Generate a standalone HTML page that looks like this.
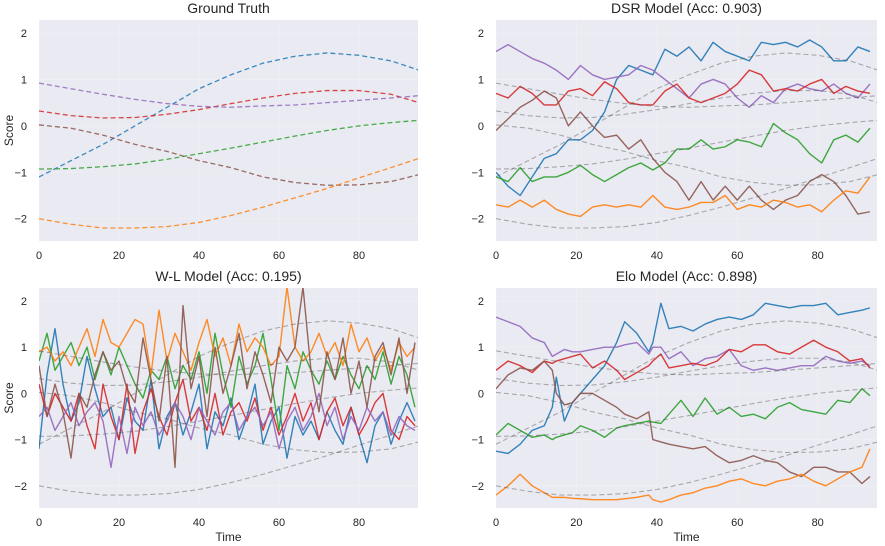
<!DOCTYPE html>
<html><head><meta charset="utf-8">
<style>
body{margin:0;background:#fff;}
svg{display:block;font-family:"Liberation Sans",sans-serif;}
</style></head>
<body>
<svg id="fig" width="885" height="546" viewBox="0 0 885 546"></svg>
<script>
// ---- data ----
const gtT = [0,8,16,24,32,40,48,56,64,72,80,88,95];
const gtBlue = [-1.1,-0.75,-0.4,0.0,0.4,0.8,1.1,1.35,1.5,1.57,1.52,1.4,1.2];
const gtRed = [0.32,0.22,0.17,0.18,0.25,0.35,0.48,0.6,0.7,0.76,0.76,0.68,0.5];
const gtPurple = [0.92,0.8,0.68,0.57,0.48,0.42,0.4,0.43,0.45,0.5,0.55,0.6,0.65];
const gtBrown = [0.02,-0.05,-0.2,-0.4,-0.55,-0.75,-0.9,-1.1,-1.22,-1.28,-1.27,-1.2,-1.05];
const gtGreen = [-0.93,-0.92,-0.88,-0.82,-0.72,-0.6,-0.48,-0.35,-0.22,-0.1,0.0,0.07,0.12];
const gtOrange = [-2.0,-2.12,-2.2,-2.2,-2.17,-2.08,-1.93,-1.75,-1.55,-1.35,-1.12,-0.9,-0.7];

const dsrT = [0,3,6,9,12,15,18,21,24,27,30,33,36,39,42,45,48,51,54,57,60,63,66,69,72,75,78,81,84,87,90,93];
const dsrBlue = [-1.0,-1.3,-1.5,-1.1,-0.7,-0.6,-0.3,-0.3,-0.1,0.3,1.0,1.3,1.2,1.1,1.65,1.5,1.7,1.4,1.8,1.6,1.5,1.4,1.8,1.75,1.8,1.7,1.85,1.7,1.4,1.4,1.7,1.6];
const dsrPurple = [1.6,1.75,1.6,1.45,1.35,1.2,1.0,1.3,1.1,1.0,1.05,1.1,1.3,1.2,1.0,0.8,0.6,0.9,1.0,0.9,0.6,0.4,0.65,0.5,0.8,0.9,0.8,0.75,0.9,0.7,0.6,0.9];
const dsrRed = [0.7,0.6,0.85,0.7,0.45,0.45,0.75,0.8,0.65,0.95,0.8,0.5,0.45,0.45,0.75,0.9,0.6,0.5,0.6,0.7,0.9,1.2,1.1,0.75,0.8,0.75,0.9,1.0,0.7,0.85,0.75,0.7];
const dsrBrown = [-0.1,0.15,0.4,0.55,0.75,0.6,0.0,0.3,0.0,-0.25,-0.2,-0.5,-0.3,-0.7,-1.0,-1.2,-1.6,-1.2,-1.6,-1.3,-1.6,-1.3,-1.6,-1.8,-1.6,-1.5,-1.2,-1.05,-1.2,-1.5,-1.9,-1.85];
const dsrGreen = [-1.1,-1.2,-0.9,-1.2,-1.1,-1.1,-1.0,-0.85,-1.05,-1.2,-1.05,-0.9,-0.8,-0.95,-0.8,-0.5,-0.5,-0.3,-0.5,-0.45,-0.3,-0.35,-0.45,0.05,-0.15,-0.3,-0.6,-0.8,-0.3,-0.2,-0.35,-0.05];
const dsrOrange = [-1.7,-1.75,-1.6,-1.75,-1.6,-1.8,-1.9,-1.95,-1.75,-1.7,-1.75,-1.7,-1.75,-1.5,-1.75,-1.8,-1.75,-1.65,-1.65,-1.5,-1.8,-1.7,-1.75,-1.6,-1.65,-1.75,-1.7,-1.85,-1.6,-1.4,-1.45,-1.1];

const eloT = [0,3,6,9,12,14,15,17,19,21,24,27,30,32,35,38,39,41,43,46,49,52,55,58,61,64,67,70,73,76,79,82,85,88,91,93];
const eloBlue = [-1.25,-1.3,-1.1,-0.8,-0.7,-0.3,0.35,-0.6,-0.2,0.0,0.3,0.6,1.1,1.55,1.3,0.9,1.1,1.95,1.4,1.45,1.35,1.5,1.6,1.65,1.6,1.7,1.95,1.9,1.85,1.9,1.9,1.95,1.7,1.75,1.8,1.85];
const eloPurple = [1.65,1.55,1.45,1.2,1.1,0.8,0.85,0.95,0.9,0.9,0.95,1.0,1.0,1.05,1.1,0.85,1.0,1.0,0.75,0.9,0.6,0.75,0.8,0.95,0.6,0.5,0.55,0.5,0.55,0.6,0.6,0.8,0.7,0.65,0.7,0.6];
const eloRed = [0.5,0.7,0.6,0.45,0.7,0.65,0.7,0.75,0.8,0.85,0.55,0.7,0.5,0.3,0.45,0.6,0.7,0.85,0.55,0.6,0.65,0.6,0.7,0.95,0.9,1.05,1.05,0.9,0.85,1.0,1.15,1.0,0.9,0.7,0.75,0.55];
const eloBrown = [0.1,0.4,0.55,0.5,0.7,0.5,0.0,-0.25,-0.2,0.0,0.0,-0.15,-0.3,-0.45,-0.55,-0.4,-1.0,-1.05,-1.1,-1.15,-1.2,-1.15,-1.35,-1.5,-1.45,-1.35,-1.45,-1.5,-1.7,-1.8,-1.6,-1.6,-1.7,-1.7,-1.95,-1.8];
const eloGreen = [-0.9,-0.65,-0.8,-0.95,-0.9,-1.0,-0.95,-0.9,-0.85,-0.7,-0.8,-0.95,-0.75,-0.7,-0.65,-0.6,-0.62,-0.65,-0.45,-0.15,-0.5,-0.1,-0.45,-0.3,-0.5,-0.45,-0.55,-0.3,-0.2,-0.35,-0.4,-0.45,-0.15,-0.2,0.1,-0.05];
const eloOrange = [-2.2,-2.0,-1.75,-2.0,-2.15,-2.25,-2.25,-2.25,-2.27,-2.28,-2.3,-2.3,-2.3,-2.28,-2.25,-2.2,-2.3,-2.35,-2.3,-2.2,-2.15,-2.05,-2.0,-1.9,-1.85,-1.95,-2.0,-1.9,-1.85,-1.75,-1.9,-2.0,-1.85,-1.7,-1.6,-1.2];

const wlT = [0,2,4,6,8,10,12,14,16,18,20,22,24,26,28,30,32,34,36,38,40,42,44,46,48,50,52,54,56,58,60,62,64,66,68,70,72,74,76,78,80,82,84,86,88,90,92,94];
const wlOrange = [0.9,1.0,0.7,0.9,0.6,1.0,1.4,0.8,1.6,1.1,1.0,1.3,1.6,1.5,0.4,1.8,0.7,1.3,0.9,0.5,1.1,1.6,0.8,1.2,0.6,1.5,0.9,1.2,1.0,0.6,0.8,2.3,1.0,0.7,0.9,1.3,0.8,1.1,0.6,1.5,0.9,1.2,0.7,1.0,0.5,1.1,0.8,1.0];
const wlGreen = [0.7,1.3,0.5,0.8,1.1,0.6,1.0,0.3,0.9,0.4,1.0,0.6,0.2,-0.1,0.5,0.3,0.8,0.1,0.6,0.3,0.9,0.0,1.3,0.4,-0.3,0.8,0.2,0.6,1.3,0.3,-0.8,0.6,0.1,0.9,0.5,0.2,0.7,0.3,0.8,0.4,0.1,0.6,0.3,0.9,0.2,0.8,0.4,-0.3];
const wlBrown = [0.6,-0.5,0.2,-0.4,-1.4,0.0,-0.3,0.4,0.9,0.5,0.7,0.1,-0.2,1.2,0.3,-0.6,0.8,-1.6,1.9,0.1,0.8,-0.5,1.0,0.0,0.6,1.3,0.1,0.9,0.4,-0.2,1.0,0.7,1.0,2.3,0.5,-0.4,0.9,0.3,1.2,0.0,0.7,-0.3,0.8,1.1,0.4,1.2,0.0,1.1];
const wlBlue = [-1.2,0.4,1.4,0.2,-0.6,-0.2,0.8,0.1,-0.5,-0.3,-1.0,-0.1,-0.6,-0.8,0.3,-1.2,-0.5,-0.2,-0.9,-0.4,0.2,-1.2,-0.4,-0.7,-0.1,-1.0,-0.5,0.2,-1.1,-0.6,-0.3,-1.4,-0.5,-0.9,-0.6,-1.0,-0.4,-0.8,-1.1,-0.3,-0.9,-1.5,-0.7,-0.4,-1.1,-0.6,-0.2,-0.6];
const wlRed = [0.2,-0.5,0.0,-0.3,-0.6,0.0,-0.7,-1.2,0.2,-0.5,-1.0,0.2,-1.3,-0.4,0.1,-0.5,-0.9,-0.2,0.3,-0.6,-0.3,-0.8,0.0,-0.9,-0.4,-0.2,-0.6,-0.1,-0.8,-0.3,-0.9,-0.5,0.0,-0.6,-0.2,-1.0,-0.4,-0.1,-0.7,-0.3,-0.9,-0.6,-0.2,0.0,-0.8,-1.0,-0.5,-0.7];
const wlPurple = [-0.5,-0.3,-0.8,-0.5,-0.2,-0.7,-0.4,-0.2,-0.6,-1.6,-0.5,-1.3,-0.3,-0.7,-0.4,-0.9,-0.6,-0.2,-0.5,-1.0,-0.3,-0.6,-0.9,-0.4,-0.2,-0.8,-0.5,-0.3,-0.7,-0.4,-1.2,-0.6,-0.3,-0.8,-0.5,0.0,-0.7,-0.3,-1.0,-0.5,-0.8,-0.3,-0.6,-0.4,-0.9,-0.5,-0.7,-0.8];

const xTicks = [0,20,40,60,80];
const yTicks = [2,1,0,-1,-2];
const yTickLabels = ["2","1","0","\u22121","\u22122"];
const xMax = 94.75, yMin = -2.48, yMax = 2.28;

const C = {blue:"#1f77b4",orange:"#ff7f0e",green:"#2ca02c",red:"#d62728",purple:"#9467bd",brown:"#8c564b"};
const NS = "http://www.w3.org/2000/svg";
const svg = document.getElementById("fig");
function mk(tag, attrs, parent){const e=document.createElementNS(NS,tag);for(const k in attrs)e.setAttribute(k,attrs[k]);(parent||svg).appendChild(e);return e;}

const gtList = [["blue",gtBlue],["red",gtRed],["purple",gtPurple],["brown",gtBrown],["green",gtGreen],["orange",gtOrange]];

function panel(key, title, x0, x1, y0, y1, showY, showX, series, tArr, gtStrong){
  const g = mk("g",{});
  
  
  const sx = t => x0 + (t/xMax)*(x1-x0);
  const sy = v => y0 + (yMax-v)/(yMax-yMin)*(y1-y0);
  const bg = mk("rect",{x:x0,y:y0,width:x1-x0,height:y1-y0,fill:"#eaeaf2"},g);
  
  
  xTicks.forEach(t=>{
    mk("line",{x1:sx(t),x2:sx(t),y1:y0,y2:y1,stroke:"#fff","stroke-width":0.8,opacity:0.25},g);
    const tl = mk("text",{x:sx(t),y:y1+18,"text-anchor":"middle","font-size":11,fill:"#262626"},g);
    tl.textContent = t;
    
    
  });
  yTicks.forEach((v,i)=>{
    mk("line",{x1:x0,x2:x1,y1:sy(v),y2:sy(v),stroke:"#fff","stroke-width":0.8,opacity:0.25},g);
    const tl = mk("text",{x:x0-12,y:sy(v)+4,"text-anchor":"end","font-size":11,fill:"#262626"},g);
    tl.textContent = yTickLabels[i];
    
    
  });
  const tt = mk("text",{x:(x0+x1)/2,y:y0-7,"text-anchor":"middle","font-size":14,fill:"#262626"},g);
  tt.textContent = title;
  
  
  if(showY){
    const yl = mk("text",{x:0,y:0,"text-anchor":"middle","font-size":12,fill:"#262626",transform:`translate(13,${(y0+y1)/2}) rotate(-90)`},g);
    yl.textContent = "Score";
    
    
  }
  if(showX){
    const xl = mk("text",{x:(x0+x1)/2,y:y1+33,"text-anchor":"middle","font-size":12,fill:"#262626"},g);
    xl.textContent = "Time";
    
    
  }
  const clip = mk("clipPath",{id:"clip-"+key},g);
  mk("rect",{x:x0,y:y0,width:x1-x0,height:y1-y0},clip);
  const lines = mk("g",{"clip-path":`url(#clip-${key})`},g);
  if(series){
    series.forEach(([c,vals])=>{
      const p = mk("polyline",{points:vals.map((v,i)=>sx(tArr[i])+","+sy(v)).join(" "),fill:"none",stroke:C[c],"stroke-width":1.4,"stroke-linejoin":"round",opacity:0.9},lines);
      
      
    });
  }
  gtList.forEach(([c,vals])=>{
    const p = mk("polyline",{points:vals.map((v,i)=>sx(gtT[i])+","+sy(v)).join(" "),fill:"none",stroke:gtStrong?C[c]:"#555","stroke-width":gtStrong?1.3:1.1,"stroke-dasharray":"5,3",opacity:gtStrong?0.85:0.45},lines);
    
    
  });
}

panel("ground-truth","Ground Truth",39,418,20,241,true,false,null,null,true);
panel("dsr","DSR Model (Acc: 0.903)",496,877,20,241,false,false,
  [["blue",dsrBlue],["purple",dsrPurple],["red",dsrRed],["brown",dsrBrown],["green",dsrGreen],["orange",dsrOrange]],dsrT,false);
panel("wl","W-L Model (Acc: 0.195)",39,418,288,508,true,true,
  [["blue",wlBlue],["red",wlRed],["purple",wlPurple],["green",wlGreen],["orange",wlOrange],["brown",wlBrown]],wlT,false);
panel("elo","Elo Model (Acc: 0.898)",496,877,288,508,false,true,
  [["blue",eloBlue],["purple",eloPurple],["red",eloRed],["brown",eloBrown],["green",eloGreen],["orange",eloOrange]],eloT,false);
</script>
</body></html>
